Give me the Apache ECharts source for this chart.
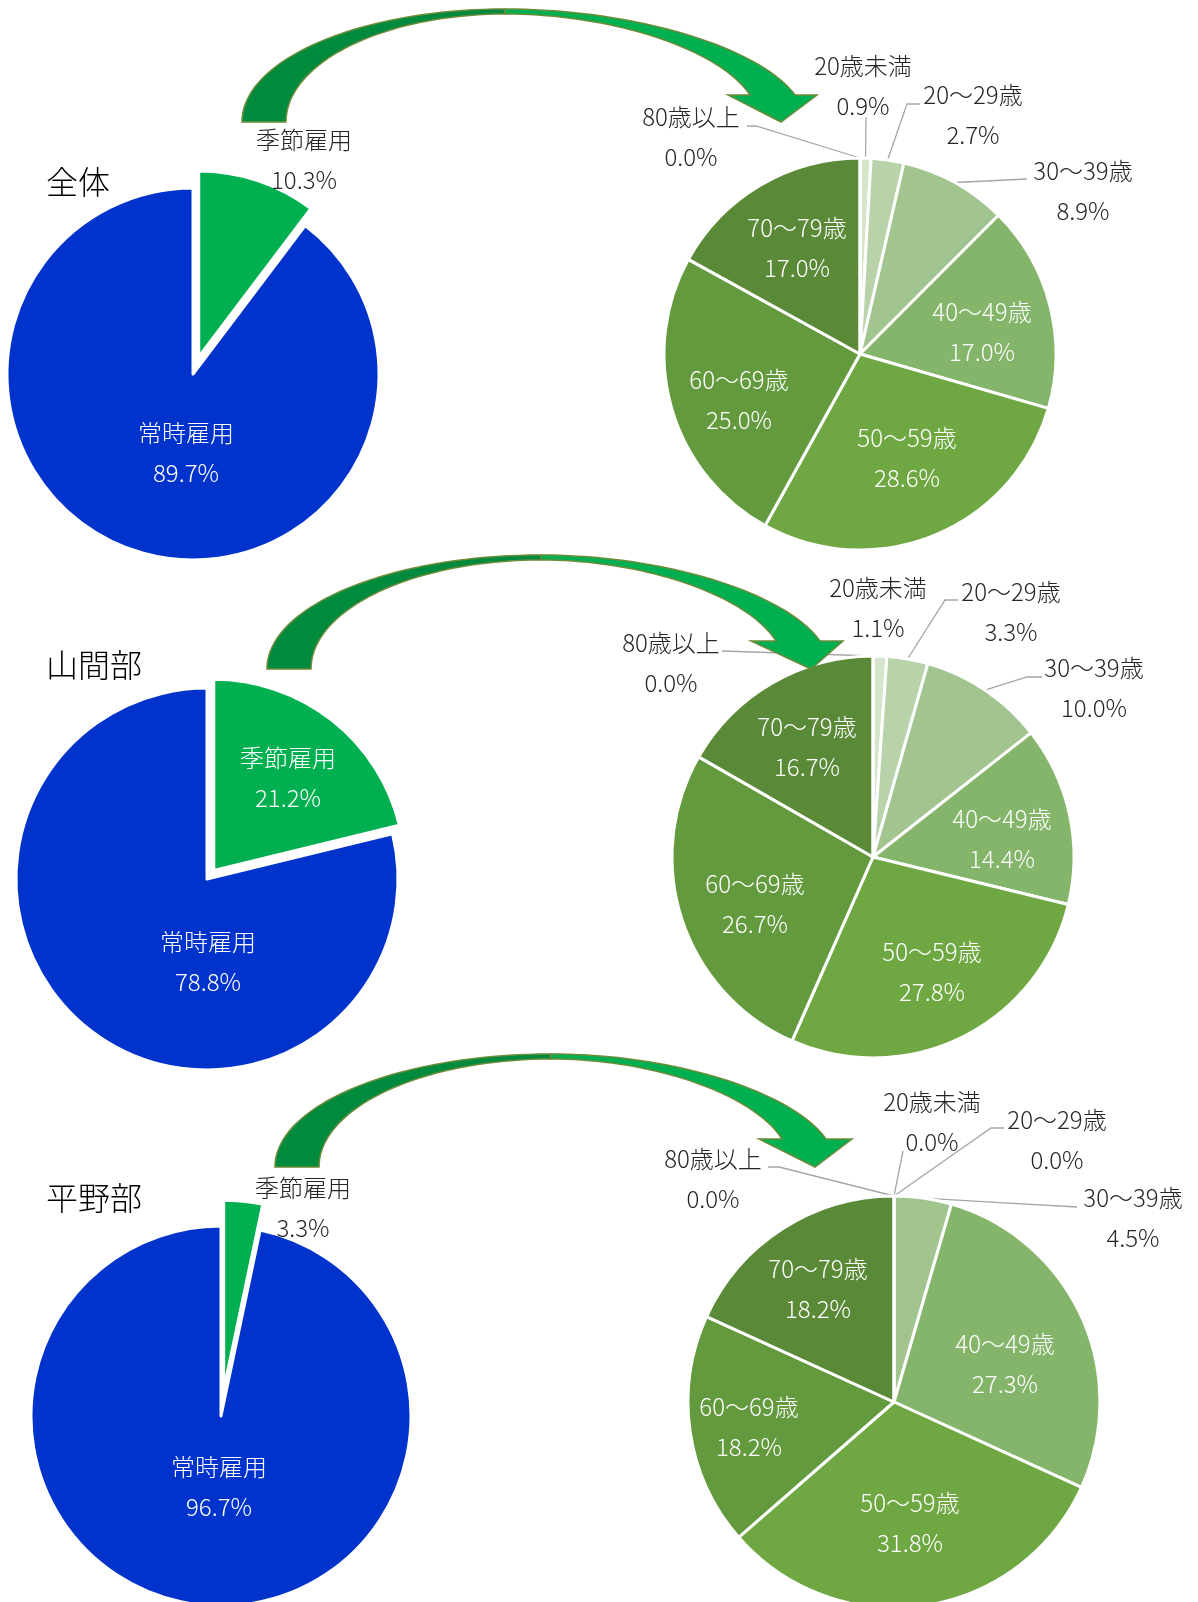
<!DOCTYPE html>
<html>
<head>
<meta charset="utf-8">
<script src="https://cdn.jsdelivr.net/npm/echarts@6/dist/echarts.min.js"></script>
<style>
html,body{margin:0;padding:0;background:#ffffff;}
#chart{width:1198px;height:1602px;}
</style>
</head>
<body>
<div id="chart"></div>
<script>
// ---------------- data ----------------
const panelTitles = ['全体', '山間部', '平野部'];
const employCategories = ['季節雇用', '常時雇用'];
const employAll = [10.3, 89.7];
const employMountain = [21.2, 78.8];
const employPlain = [3.3, 96.7];
const ageCategories = ['20歳未満', '20～29歳', '30～39歳', '40～49歳', '50～59歳', '60～69歳', '70～79歳', '80歳以上'];
const ageAll = [0.9, 2.7, 8.9, 17.0, 28.6, 25.0, 17.0, 0.0];
const ageMountain = [1.1, 3.3, 10.0, 14.4, 27.8, 26.7, 16.7, 0.0];
const agePlain = [0.0, 0.0, 4.5, 27.3, 31.8, 18.2, 18.2, 0.0];

// ---------------- styles ----------------
const FONT = '"Noto Sans CJK JP", "Noto Sans", sans-serif';
const FONT_WEIGHT = 300;
const employColors = ['#00b050', '#0033cc'];
const ageColors = ['#d5e5cb', '#b8d3aa', '#a2c590', '#84b56a', '#6fa843', '#639a3e', '#5a8a37', '#4f7a30'];
const outTextColor = '#262626';

// ---------------- layout (positions relative to each pie centre) ----------------
const layout = [
  {
    titleY: 182,
    left: { c: [193, 374], r: 186, offset: 18,
      labels: [ { pos: [111, -214], out: true }, { pos: [-7, 79] } ] },
    right: { c: [860, 354], r: 196,
      labels: [
        { pos: [3, -268], out: true, line: [[6, -237]] },
        { pos: [113, -239], out: true, line: [[47, -250], [60, -250]] },
        { pos: [223, -163], out: true, line: [[167, -175]] },
        { pos: [122, -22] }, { pos: [47, 104] }, { pos: [-121, 46] }, { pos: [-63, -106] },
        { pos: [-169, -217], out: true, line: [[-104, -228], [-113, -228]] }
      ] },
    arrow: { TL: 242, TR: 286, B: 122, T: 9, TX: 505, HI: 750, HO: 795, BL: 728, BR: 817, BY: 95, TPX: 781 }
  },
  {
    titleY: 665,
    left: { c: [207, 879], r: 191, offset: 11,
      labels: [ { pos: [81, -101] }, { pos: [1, 83] } ] },
    right: { c: [873, 857], r: 201,
      labels: [
        { pos: [5, -249], out: true },
        { pos: [138, -245], out: true, line: [[72, -257], [85, -257]] },
        { pos: [221, -169], out: true, line: [[154, -180], [169, -180]] },
        { pos: [129, -18] }, { pos: [59, 115] }, { pos: [-118, 47] }, { pos: [-66, -110] },
        { pos: [-202, -194], out: true, line: [[-151, -206]] }
      ] },
    arrow: { TL: 267, TR: 311, B: 669, T: 555, TX: 541, HI: 776, HO: 820, BL: 751, BR: 843, BY: 641, TPX: 811 }
  },
  {
    titleY: 1198,
    left: { c: [221, 1416], r: 190, offset: 26,
      labels: [ { pos: [82, -208], out: true }, { pos: [-2, 71] } ] },
    right: { c: [894, 1402], r: 206,
      labels: [
        { pos: [38, -280], out: true, line: [[9, -251]] },
        { pos: [163, -262], out: true, line: [[97, -274], [110, -274]] },
        { pos: [239, -184], out: true, line: [[183, -195]] },
        { pos: [111, -38] }, { pos: [16, 121] }, { pos: [-145, 25] }, { pos: [-76, -113] },
        { pos: [-181, -223], out: true, line: [[-115, -235], [-126, -235]] }
      ] },
    arrow: { TL: 275, TR: 319, B: 1167, T: 1054, TX: 551, HI: 782, HO: 826, BL: 759, BR: 852, BY: 1139, TPX: 815 }
  }
];

const employSets = [employAll, employMountain, employPlain];
const ageSets = [ageAll, ageMountain, agePlain];

function fmt(p) { return p.name + '\n' + Number(p.value).toFixed(1) + '%'; }

function makeLabelLayout(geo, values) {
  const cx = geo.c[0], cy = geo.c[1], r = geo.r;
  const total = values.reduce((a, b) => a + b, 0);
  return function (params) {
    const idx = params.dataIndex;
    const def = geo.labels[idx];
    const res = { x: cx + def.pos[0], y: cy + def.pos[1], align: 'center', verticalAlign: 'middle' };
    if (def.line) {
      let before = 0;
      for (let i = 0; i < idx; i++) before += values[i];
      const mid = (before + values[idx] / 2) / total * Math.PI * 2;
      const start = [cx + r * Math.sin(mid), cy - r * Math.cos(mid)];
      const pts = def.line.map(p => [cx + p[0], cy + p[1]]);
      if (pts.length === 1) pts.unshift([(start[0] + pts[0][0]) / 2, (start[1] + pts[0][1]) / 2]);
      res.labelLinePoints = [start].concat(pts);
    }
    return res;
  };
}

function buildData(names, values, colors, geo) {
  return names.map((n, i) => {
    const def = geo.labels[i];
    return {
      name: n,
      value: values[i],
      itemStyle: { color: colors[i] },
      label: { position: def.out ? 'outside' : 'inside', color: def.out ? outTextColor : '#ffffff' },
      labelLine: { show: !!def.line }
    };
  });
}

const labelBase = { show: true, formatter: fmt, fontFamily: FONT, fontWeight: FONT_WEIGHT, fontSize: 24, lineHeight: 40 };

const series = [];
layout.forEach((L, k) => {
  // left pie: slices (seasonal slice pulled out)
  const eData = buildData(employCategories, employSets[k], employColors, L.left);
  eData[0].selected = true;
  series.push({
    type: 'pie',
    center: L.left.c,
    radius: L.left.r,
    startAngle: 90,
    clockwise: true,
    selectedMode: 'single',
    selectedOffset: L.left.offset,
    avoidLabelOverlap: false,
    animation: false,
    silent: true,
    itemStyle: { borderColor: '#ffffff', borderWidth: 3 },
    select: { itemStyle: { borderColor: '#ffffff', borderWidth: 3 } },
    emphasis: { disabled: true },
    label: { show: false },
    labelLine: { show: false },
    data: eData
  });
  // left pie: labels (same data, invisible sectors)
  const lData = buildData(employCategories, employSets[k], employColors, L.left).map(d => {
    d.itemStyle = { color: 'rgba(0,0,0,0)', borderWidth: 0 };
    return d;
  });
  series.push({
    type: 'pie',
    center: L.left.c,
    radius: L.left.r,
    startAngle: 90,
    clockwise: true,
    avoidLabelOverlap: false,
    animation: false,
    silent: true,
    z: 3,
    emphasis: { disabled: true },
    label: labelBase,
    labelLine: { show: false },
    labelLayout: makeLabelLayout(L.left, employSets[k]),
    data: lData
  });
  // right pie: age breakdown of seasonal workers
  series.push({
    type: 'pie',
    center: L.right.c,
    radius: L.right.r,
    startAngle: 90,
    clockwise: true,
    avoidLabelOverlap: false,
    animation: false,
    silent: true,
    itemStyle: { borderColor: '#ffffff', borderWidth: 3 },
    emphasis: { disabled: true },
    label: labelBase,
    labelLine: { show: true, lineStyle: { color: '#a6a6a6', width: 1.3 } },
    labelLayout: makeLabelLayout(L.right, ageSets[k]),
    data: buildData(ageCategories, ageSets[k], ageColors, L.right)
  });
});

// ---------------- decorative curved arrows ----------------
function bez(p0, p1, p2, p3, n) {
  const pts = [];
  for (let i = 0; i <= n; i++) {
    const t = i / n, u = 1 - t;
    const a = u * u * u, b = 3 * u * u * t, c = 3 * u * t * t, d = t * t * t;
    pts.push([a * p0[0] + b * p1[0] + c * p2[0] + d * p3[0], a * p0[1] + b * p1[1] + c * p2[1] + d * p3[1]]);
  }
  return pts;
}
function arrowShapes(a) {
  const k = 0.552, th = 5;
  const outerL = bez([a.TL, a.B], [a.TL, a.B - k * (a.B - a.T)], [a.TX - k * (a.TX - a.TL), a.T], [a.TX, a.T], 40);
  const innerL = bez([a.TX, a.T + th], [a.TX - k * (a.TX - a.TR), a.T + th], [a.TR, a.B - k * (a.B - a.T - th)], [a.TR, a.B], 40);
  const dark = outerL.concat(innerL);
  const outerR = bez([a.TX, a.T], [a.TX + 0.45 * (a.HO - a.TX), a.T], [a.HO - 0.12 * (a.HO - a.TX), a.BY - 0.55 * (a.BY - a.T)], [a.HO, a.BY], 40);
  const innerR = bez([a.HI, a.BY], [a.HI - 0.12 * (a.HI - a.TX), a.BY - 0.55 * (a.BY - a.T - th)], [a.TX + 0.45 * (a.HI - a.TX), a.T + th], [a.TX, a.T + th], 40);
  const bright = outerR.concat([[a.BR, a.BY], [a.TPX, a.B], [a.BL, a.BY]]).concat(innerR);
  return { dark, bright };
}

const graphics = [];
layout.forEach((L, k) => {
  const s = arrowShapes(L.arrow);
  graphics.push({ type: 'polygon', z: 50, shape: { points: s.dark }, style: { fill: '#008a3e', stroke: '#6b8c3a', lineWidth: 1.5 } });
  graphics.push({ type: 'polygon', z: 51, shape: { points: s.bright }, style: { fill: '#00b050', stroke: '#6b8c3a', lineWidth: 1.5 } });
  graphics.push({
    type: 'text', z: 60, x: 46, y: L.titleY,
    style: { text: panelTitles[k], fill: '#000000', fontSize: 32, fontFamily: FONT, fontWeight: FONT_WEIGHT, verticalAlign: 'middle', align: 'left' }
  });
});

const chart = echarts.init(document.getElementById('chart'), null, { renderer: 'canvas' });
chart.setOption({
  backgroundColor: '#ffffff',
  animation: false,
  series: series,
  graphic: { elements: graphics }
});
</script>
</body>
</html>
